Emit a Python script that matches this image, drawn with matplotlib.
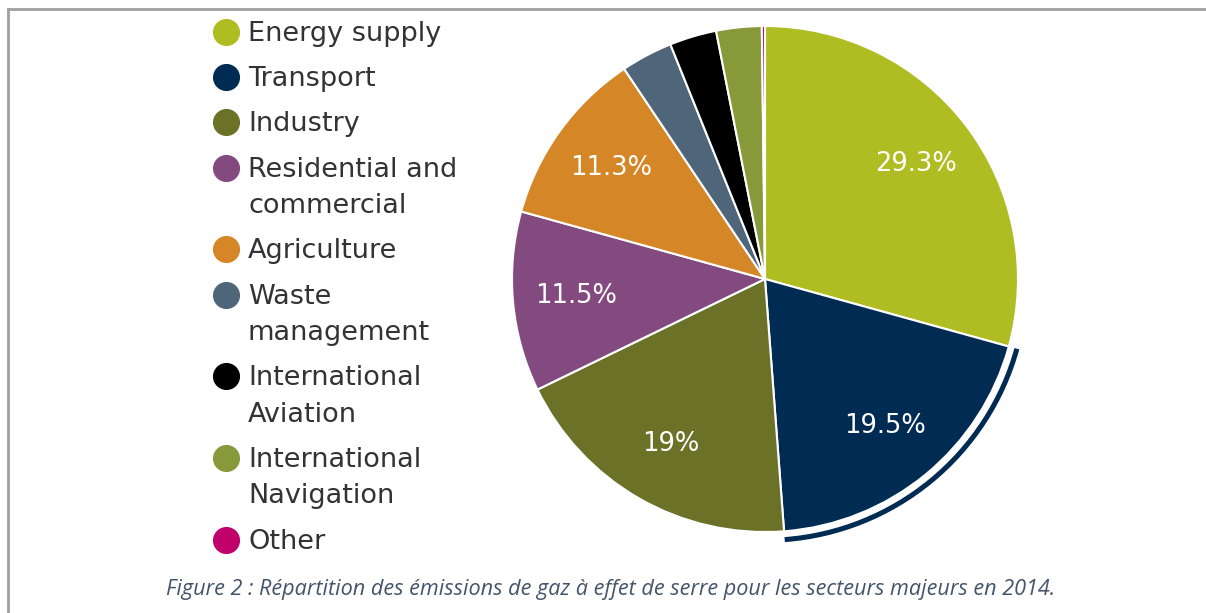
"""Pie chart of greenhouse gas emissions by sector (2014)."""

import numpy as np
import matplotlib.pyplot as plt
from matplotlib.lines import Line2D
from matplotlib.patches import Wedge

sectors = [
    "Energy supply",
    "Transport",
    "Industry",
    "Residential and\ncommercial",
    "Agriculture",
    "Waste\nmanagement",
    "International\nAviation",
    "International\nNavigation",
    "Other",
]
shares = [29.3, 19.5, 19.0, 11.5, 11.3, 3.3, 3.0, 2.9, 0.2]
colors = [
    "#afbd22", "#002b53", "#6b7228", "#834a80", "#d58626",
    "#4f667a", "#000000", "#88993a", "#c0006b",
]
highlighted = "Transport"
caption = ("Figure 2 : Répartition des émissions de gaz à effet de serre "
           "pour les secteurs majeurs en 2014.")

W, H = 1206, 613
fig = plt.figure(figsize=(W / 100, H / 100), dpi=100)
fig.patch.set_facecolor("white")

# pie axes: centre at (765, 279) px, radius ~253 px
cx, cy, r_px = 765, 279, 253
pad = 1.06
half = r_px * pad
ax = fig.add_axes([(cx - half) / W, (H - cy - half) / H, 2 * half / W, 2 * half / H])

wedges, _ = ax.pie(
    shares,
    colors=colors,
    startangle=90,
    counterclock=False,
    radius=1.0,
    wedgeprops=dict(edgecolor="white", linewidth=1.5),
)
ax.set_xlim(-pad, pad)
ax.set_ylim(-pad, pad)
ax.set_aspect("equal")
ax.axis("off")

# percentage labels for the large slices
for w, v in zip(wedges, shares):
    if v < 5:
        continue
    mid = np.deg2rad((w.theta1 + w.theta2) / 2)
    ax.text(0.75 * np.cos(mid), 0.75 * np.sin(mid), f"{v:g}%",
            ha="center", va="center", color="white", fontsize=18.5,
            family="DejaVu Sans")

# halo arc on the highlighted slice
k = sectors.index(highlighted)
hw = wedges[k]
ax.add_patch(Wedge((0, 0), 1.043, hw.theta1, hw.theta2, width=0.02,
                   facecolor=colors[k], edgecolor="none"))

# legend drawn by hand so markers line up with the first text line
y = 32
for name, col in zip(sectors, colors):
    fig.add_artist(Line2D([226 / W], [1 - y / H], marker="o", markersize=18.5,
                          color=col, linestyle="none"))
    for i, line in enumerate(name.split("\n")):
        fig.text(248 / W, 1 - (y + 9 + 36.5 * i) / H, line, ha="left",
                 va="baseline", color="#333333", fontsize=19.5,
                 family="DejaVu Sans")
    y += 45.2 + 36.5 * name.count("\n")

# frame lines (top and left)
fig.add_artist(Line2D([7.5 / W, 1], [1 - 8.5 / H, 1 - 8.5 / H], color="#a0a0a0", lw=2))
fig.add_artist(Line2D([7.5 / W, 7.5 / W], [0, 1 - 8.5 / H], color="#a0a0a0", lw=2))

fig.text(611 / W, 1 - 589 / H, caption, ha="center", va="center",
         color="#44546a", fontsize=15.6, style="italic",
         family=["Open Sans", "DejaVu Sans"])

fig.savefig("out.png", dpi=100)
